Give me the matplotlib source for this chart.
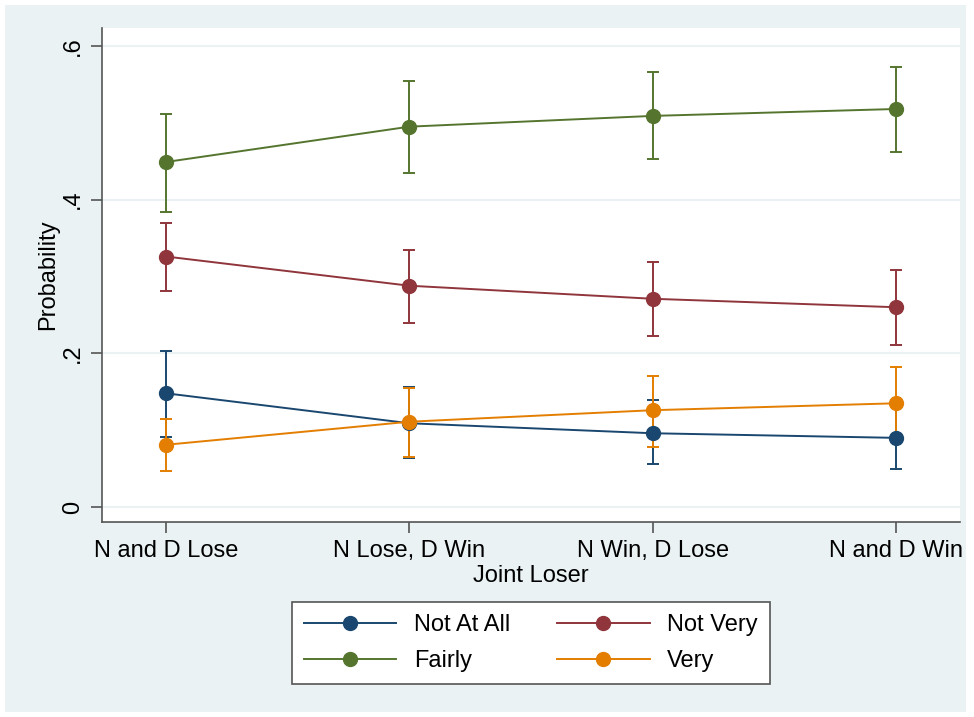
import matplotlib
matplotlib.use("Agg")
import matplotlib.pyplot as plt
from matplotlib.patches import Rectangle
from matplotlib.lines import Line2D

plt.rcParams['font.family'] = ['Liberation Sans', 'DejaVu Sans']

categories = ["N and D Lose", "N Lose, D Win", "N Win, D Lose", "N and D Win"]
series_names = ["Not At All", "Not Very", "Fairly", "Very"]
colors = ["#1a476f", "#90353b", "#55752f", "#e37e00"]

not_at_all = [0.148, 0.109, 0.096, 0.090]
not_at_all_lo = [0.091, 0.064, 0.056, 0.049]
not_at_all_hi = [0.203, 0.156, 0.139, 0.131]

not_very = [0.326, 0.288, 0.271, 0.260]
not_very_lo = [0.281, 0.240, 0.223, 0.211]
not_very_hi = [0.369, 0.335, 0.319, 0.309]

fairly = [0.449, 0.495, 0.509, 0.518]
fairly_lo = [0.384, 0.435, 0.453, 0.462]
fairly_hi = [0.512, 0.555, 0.566, 0.573]

very = [0.081, 0.111, 0.126, 0.135]
very_lo = [0.047, 0.065, 0.078, 0.088]
very_hi = [0.115, 0.155, 0.171, 0.182]

y_ticks = [0, 0.2, 0.4, 0.6]
y_labels = ["0", ".2", ".4", ".6"]

fs = 17

fig = plt.figure(figsize=(9.74, 7.17), dpi=100, facecolor="white")
# light background panel like the Stata graph region
fig.patches.append(Rectangle((5 / 974, 5 / 717), 961 / 974, 707 / 717,
                             transform=fig.transFigure, facecolor="#eaf2f3",
                             edgecolor="none", zorder=-10))

ax = fig.add_axes([102 / 974, 1 - 522 / 717, 858 / 974, 494 / 717])
ax.set_facecolor("white")

x = [1, 2, 3, 4]
all_series = [
    (not_at_all, not_at_all_lo, not_at_all_hi),
    (not_very, not_very_lo, not_very_hi),
    (fairly, fairly_lo, fairly_hi),
    (very, very_lo, very_hi),
]
handles = []
for (vals, lo, hi), name, c in zip(all_series, series_names, colors):
    err = [[v - l for v, l in zip(vals, lo)], [h - v for v, h in zip(vals, hi)]]
    ax.errorbar(x, vals, yerr=err, color=c, marker="o", markersize=10,
                linewidth=1.4, elinewidth=1.4, capsize=4.5, capthick=1.4,
                zorder=3)
    handles.append(Line2D([], [], color=c, marker="o", markersize=10,
                          linewidth=1.4, label=name))

ax.set_xlim(0.737, 4.263)
ax.set_ylim(-0.0195, 0.6234)
ax.set_xticks(x)
ax.set_xticklabels(categories, fontsize=fs)
ax.set_yticks(y_ticks)
ax.set_yticklabels(y_labels, fontsize=fs, rotation=90, va="center")
ax.yaxis.grid(True, color="#eaf2f3", linewidth=1.5, zorder=0)
ax.set_axisbelow(True)
ax.tick_params(axis="both", direction="out", length=8, width=1.2, color="#555555", pad=5)
for s in ["top", "right"]:
    ax.spines[s].set_visible(False)
for s in ["left", "bottom"]:
    ax.spines[s].set_color("#555555")
    ax.spines[s].set_linewidth(1.2)

ax.set_ylabel("Probability", fontsize=fs, labelpad=2)
ax.set_xlabel("Joint Loser", fontsize=fs, labelpad=2)

# row-major order: Not At All, Not Very / Fairly, Very
order = [0, 2, 1, 3]
leg = fig.legend([handles[i] for i in order], [series_names[i] for i in order],
                 ncol=2, loc="center",
                 bbox_to_anchor=(531 / 974, 1 - 643 / 717), fontsize=fs,
                 frameon=True, fancybox=False, edgecolor="#555555",
                 facecolor="white", framealpha=1,
                 handlelength=3.9, columnspacing=2.0, handletextpad=0.75,
                 labelspacing=0.6, borderpad=0.5)
leg.get_frame().set_linewidth(1.2)

fig.savefig("out.png", dpi=100, facecolor="white")
